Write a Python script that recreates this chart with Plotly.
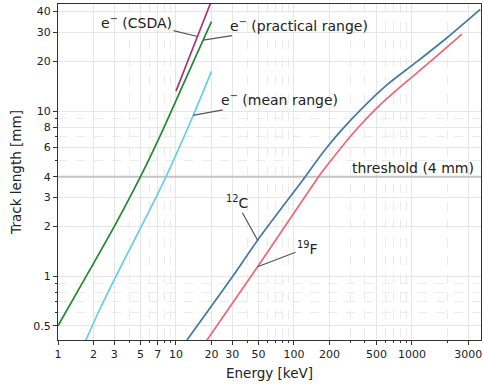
import numpy as np
import plotly.graph_objects as go

# ---------------- data ----------------
csda_E = [10, 15, 20]
csda_R = [13.2, 27.6, 46.6]

prac_E = [1, 1.82, 3.06, 5, 7.8, 14, 20]
prac_R = [0.5, 1.06, 2.05, 4.0, 7.78, 19.8, 34.8]

mean_E = [1.70, 2.21, 3.06, 4.24, 6.14, 8.0, 13.4, 20]
mean_R = [0.40, 0.608, 0.98, 1.55, 2.61, 3.83, 8.73, 17.4]

c12_E = [12.1, 30.4, 49.2, 124.7, 156.7, 190, 255, 389, 614, 1102, 1982, 3793]
c12_R = [0.40, 1.0, 1.65, 4.0, 5.02, 6.01, 7.71, 10.6, 14.4, 19.9, 27.8, 41.3]

f19_E = [17.9, 49.2, 161.6, 178, 331, 505, 796, 1429, 2653]
f19_R = [0.40, 1.14, 4.0, 4.39, 7.59, 10.45, 14.0, 19.9, 29.2]

threshold_mm = 4
threshold_E = [1, 4000]

x_ticks = [1, 2, 3, 5, 7, 10, 20, 30, 50, 100, 200, 500, 1000, 3000]
x_ticklabels = [str(v) for v in x_ticks]
y_ticks = [0.5, 1, 2, 3, 4, 6, 8, 10, 20, 30, 40]
y_ticklabels = ["0.5", "1", "2", "3", "4", "6", "8", "10", "20", "30", "40"]

# label anchor energies on each curve
lbl_csda_E = 15.2
lbl_prac_E = 17.0
lbl_mean_E = 14.0
lbl_c12_E = 49.2
lbl_f19_E = 49.2

# ---------------- figure ----------------
TOL = dict(purple="#AA3377", green="#228833", cyan="#66CCEE", blue="#4477AA", red="#EE6677")
FONT = "DejaVu Sans"

fig = go.Figure()
fig.add_trace(go.Scatter(x=threshold_E, y=[threshold_mm, threshold_mm], mode="lines",
                         line=dict(color="#c4c4c4", width=2), hoverinfo="skip"))

series = [
    (csda_E, csda_R, TOL["purple"]),
    (prac_E, prac_R, TOL["green"]),
    (mean_E, mean_R, TOL["cyan"]),
    (c12_E, c12_R, TOL["blue"]),
    (f19_E, f19_R, TOL["red"]),
]
for E, R, col in series:
    fig.add_trace(go.Scatter(x=E, y=R, mode="lines",
                             line=dict(color=col, width=1.7, shape="spline", smoothing=0.8)))


def on_curve(E, R, e):
    return float(np.interp(np.log10(e), np.log10(E), np.log10(R)))


ann_specs = [
    (csda_E, csda_R, lbl_csda_E, "e<sup>−</sup> (CSDA)", -61, -15),
    (prac_E, prac_R, lbl_prac_E, "e<sup>−</sup> (practical range)", 96, -15),
    (mean_E, mean_R, lbl_mean_E, "e<sup>−</sup> (mean range)", 86, -16),
    (c12_E, c12_R, lbl_c12_E, "<sup>12</sup>C", -21, -38),
    (f19_E, f19_R, lbl_f19_E, "<sup>19</sup>F", 50, -19),
]
for E, R, e, txt, ax, ay in ann_specs:
    fig.add_annotation(x=np.log10(e), y=on_curve(E, R, e), text=txt, showarrow=True,
                       arrowhead=0, arrowwidth=1.2, arrowcolor="#555555", ax=ax, ay=ay,
                       font=dict(family=FONT, size=14, color="#222222"))

fig.add_annotation(xref="paper", x=1, xanchor="right", xshift=-5,
                   y=np.log10(threshold_mm), yanchor="bottom", yshift=-1,
                   text="threshold (4 mm)", showarrow=False,
                   font=dict(family=FONT, size=14, color="#222222"))


def minor_vals(lo, hi, major):
    out = []
    for d in range(-2, 5):
        for m in range(1, 10):
            v = round(m * 10 ** d, 6)
            if lo <= v <= hi and all(abs(v - t) > 1e-9 for t in major):
                out.append(v)
    return out


axis_common = dict(
    type="log", ticks="outside", ticklen=4, tickwidth=1, tickcolor="#333333",
    showline=True, linecolor="#333333", linewidth=1.2, mirror=True,
    showgrid=True, gridcolor="#e6e6e6", gridwidth=1, zeroline=False,
    tickfont=dict(family=FONT, size=11, color="#222222"),
)

fig.update_xaxes(**axis_common, range=[0, np.log10(3850)], tickmode="array",
                 tickvals=x_ticks, ticktext=x_ticklabels,
                 minor=dict(tickvals=minor_vals(1, 4000, x_ticks), ticks="outside", ticklen=2,
                            tickcolor="#333333", showgrid=True, gridcolor="#ebebeb",
                            griddash="dash", gridwidth=0.8),
                 title=dict(text="Energy [keV]", font=dict(family=FONT, size=13.5, color="#222222"),
                            standoff=8))
fig.update_yaxes(**axis_common, range=[np.log10(0.41), np.log10(44.5)], tickmode="array",
                 tickvals=y_ticks, ticktext=y_ticklabels,
                 minor=dict(tickvals=minor_vals(0.41, 44.5, y_ticks), ticks="outside", ticklen=2,
                            tickcolor="#333333", showgrid=True, gridcolor="#ebebeb",
                            griddash="dash", gridwidth=0.8),
                 title=dict(text="Track length [mm]", font=dict(family=FONT, size=13.5, color="#222222"),
                            standoff=8))

fig.update_layout(width=483, height=384, margin=dict(l=58, r=2, t=4, b=44),
                  plot_bgcolor="white", paper_bgcolor="white", showlegend=False,
                  font=dict(family=FONT, size=11, color="#222222"))

fig.write_html("out.html")
